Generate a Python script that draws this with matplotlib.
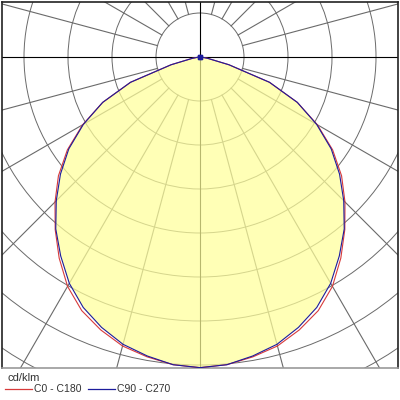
import numpy as np
import matplotlib
matplotlib.use("Agg")
import matplotlib.pyplot as plt
from matplotlib.lines import Line2D
from matplotlib.patches import Circle

plt.rcParams['font.family'] = ['Liberation Sans', 'DejaVu Sans']

# intensity distribution, cd/klm, gamma 0..90 deg (symmetric halves)
gamma = np.arange(0, 95, 5)
c0_c180 = [353, 351, 346, 340, 330, 318, 301, 279, 256, 233, 210, 184, 154, 122, 84, 34, 9, 2, 0]
c90_c270 = [353, 351, 345, 338, 327, 314, 297, 276, 255, 231, 207, 182, 153, 122, 84, 34, 9, 2, 0]
labels = ["C0 - C180", "C90 - C270"]
ring_step = 50
ring_count = 9


def to_xy(g, i):
    # full curve: left half (C180/C270) then right half (C0/C90)
    g = np.asarray(g, float)
    i = np.asarray(i, float)
    ang = np.concatenate([-g[::-1], g[1:]])
    r = np.concatenate([i[::-1], i[1:]])
    a = np.radians(ang)
    return r * np.sin(a), -r * np.cos(a)


fig = plt.figure(figsize=(4, 4), dpi=100)
ax = fig.add_axes([2 / 400, 32 / 400, 396 / 400, 366 / 400])

s = ring_step / 44.0  # cd/klm per pixel
ax.set_xlim(-198 * s, 198 * s)
ax.set_ylim(-311 * s, 55 * s)
ax.set_xticks([])
ax.set_yticks([])
for sp in ax.spines.values():
    sp.set_color('#222222')
    sp.set_linewidth(1.2)
ax.spines['bottom'].set_color('#999999')

gc = '#6a6a6a'
for k in range(1, ring_count + 1):
    ax.add_patch(Circle((0, 0), k * ring_step, fill=False, ec=gc, lw=0.7, zorder=1))
big = ring_step * (ring_count + 2)
for a in range(0, 360, 15):
    t = np.radians(a)
    r0 = 0 if a % 90 == 0 else ring_step
    col = '#000000' if a % 90 == 0 else gc
    ax.plot([r0 * np.sin(t), big * np.sin(t)], [r0 * np.cos(t), big * np.cos(t)],
            color=col, lw=0.8, zorder=1)

xb, yb = to_xy(gamma, c90_c270)
ax.fill(xb, yb, color='#ffff9a', alpha=0.72, lw=0, zorder=2)

xr, yr = to_xy(gamma, c0_c180)
ax.plot(xr, yr, color='#d83a3a', lw=0.8, zorder=3)
ax.plot(xb, yb, color='#1c1c9c', lw=0.8, zorder=4,
        marker='s', markersize=2.5, markevery=[0, len(xb) - 1])

fig.text(8 / 400, 1 - 378 / 400, "cd/klm", fontsize=8, color='#333333', va='center')
ly = 1 - 389 / 400
fig.add_artist(Line2D([5 / 400, 32 / 400], [ly, ly], color='#d83a3a', lw=0.9))
fig.text(34 / 400, ly, labels[0], fontsize=7.5, color='#333333', va='center')
fig.add_artist(Line2D([88 / 400, 115 / 400], [ly, ly], color='#1c1c9c', lw=0.9))
fig.text(117 / 400, ly, labels[1], fontsize=7.5, color='#333333', va='center')

fig.savefig("out.png", dpi=100, facecolor='white')
